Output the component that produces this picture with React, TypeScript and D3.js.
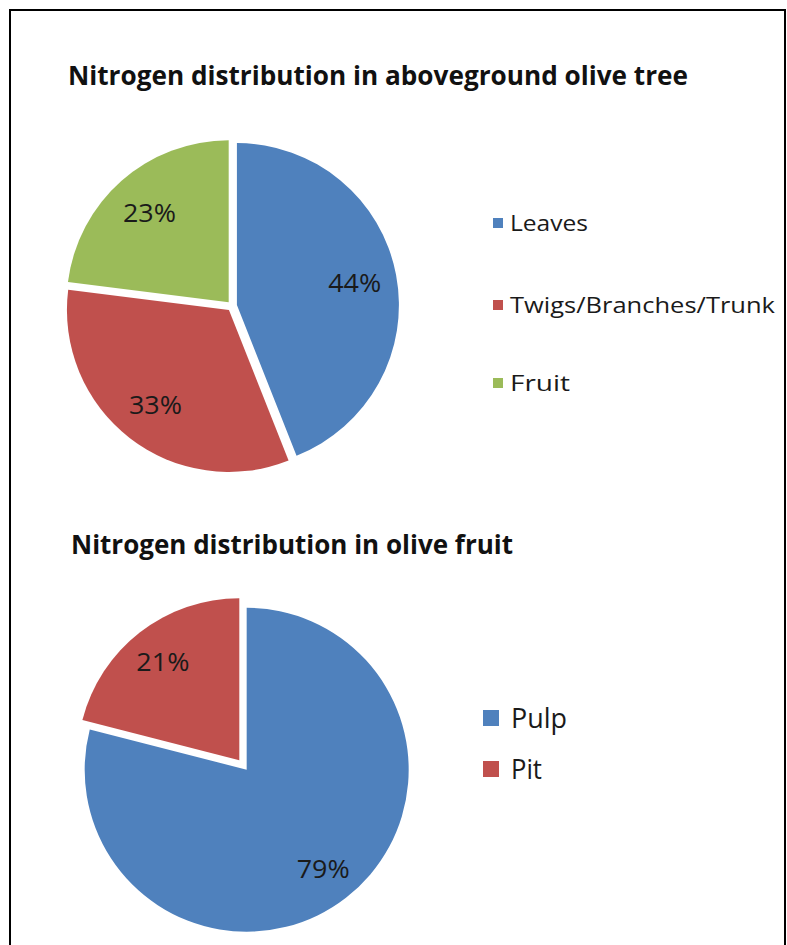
import React from "react";
import * as d3 from "d3";

const treeCategories = ["Leaves", "Twigs/Branches/Trunk", "Fruit"];
const treeValues = [44, 33, 23];
const fruitCategories = ["Pulp", "Pit"];
const fruitValues = [79, 21];
const titles = [
  "Nitrogen distribution  in aboveground  olive tree",
  "Nitrogen distribution  in olive fruit",
];
const palette = ["#4F81BD", "#C0504D", "#9BBB59"];

const W = 787;
const H = 945;
const FONT = "'Open Sans', 'Noto Sans', sans-serif";

type PieSpec = {
  cats: string[];
  vals: number[];
  cx: number;
  cy: number;
  r: number;
  explode: number;
  labelSize: number;
  labelLen: number;
  labelRatio: number;
};

function Pie({ cats, vals, cx, cy, r, explode, labelSize, labelLen, labelRatio }: PieSpec) {
  const pie = d3
    .pie<number>()
    .sort(null)
    .value((d) => d)
    .startAngle(0)
    .endAngle(2 * Math.PI);
  const arcs = pie(vals);
  const arc = d3.arc<d3.PieArcDatum<number>>().innerRadius(0).outerRadius(r);
  const labelArc = d3
    .arc<d3.PieArcDatum<number>>()
    .innerRadius(r * labelRatio)
    .outerRadius(r * labelRatio);
  return (
    <g transform={`translate(${cx},${cy})`}>
      {arcs.map((a, i) => {
        const mid = (a.startAngle + a.endAngle) / 2;
        const dx = explode * Math.sin(mid);
        const dy = -explode * Math.cos(mid);
        const [lx, ly] = labelArc.centroid(a);
        return (
          <g key={cats[i]} transform={`translate(${dx},${dy})`}>
            <path d={arc(a) || ""} fill={palette[i]} />
            <text
              x={lx}
              y={ly}
              dy="0.36em"
              textAnchor="middle"
              fontFamily={FONT}
              fontSize={labelSize}
              fill="#1a1a1a"
              textLength={labelLen}
              lengthAdjust="spacingAndGlyphs"
            >
              {`${vals[i]}%`}
            </text>
          </g>
        );
      })}
    </g>
  );
}

type LegendSpec = {
  cats: string[];
  x: number;
  ys: number[];
  box: number;
  gap: number;
  size: number;
  lens: number[];
};

function Legend({ cats, x, ys, box, gap, size, lens }: LegendSpec) {
  return (
    <g>
      {cats.map((c, i) => (
        <g key={c}>
          <rect x={x} y={ys[i] - box / 2} width={box} height={box} fill={palette[i]} />
          <text
            x={x + box + gap}
            y={ys[i]}
            dy="0.36em"
            fontFamily={FONT}
            fontSize={size}
            fill="#1a1a1a"
            textLength={lens[i]}
            lengthAdjust="spacingAndGlyphs"
          >
            {c}
          </text>
        </g>
      ))}
    </g>
  );
}

export default function App() {
  return (
    <svg
      width={W}
      height={H}
      style={{ position: "absolute", left: 0, top: 0, background: "#fff" }}
    >
      <rect x={0} y={0} width={W} height={H} fill="#fff" />
      <path d={`M10,${H + 2} V10 H785 V${H + 2}`} fill="none" stroke="#000" strokeWidth={2} />

      <text
        x={68}
        y={85}
        fontFamily={FONT}
        fontWeight="bold"
        fontSize={27}
        fill="#111"
        textLength={620}
        lengthAdjust="spacingAndGlyphs"
      >
        {titles[0]}
      </text>
      <Pie
        cats={treeCategories}
        vals={treeValues}
        cx={232}
        cy={306}
        r={162}
        explode={5}
        labelSize={26}
        labelLen={53}
        labelRatio={0.74}
      />
      <Legend
        cats={treeCategories}
        x={493}
        ys={[223, 305, 383]}
        box={10}
        gap={7}
        size={22}
        lens={[78, 265, 60]}
      />

      <text
        x={71}
        y={554}
        fontFamily={FONT}
        fontWeight="bold"
        fontSize={27}
        fill="#111"
        textLength={442}
        lengthAdjust="spacingAndGlyphs"
      >
        {titles[1]}
      </text>
      <Pie
        cats={fruitCategories}
        vals={fruitValues}
        cx={243}
        cy={765}
        r={162}
        explode={6}
        labelSize={26}
        labelLen={53}
        labelRatio={0.77}
      />
      <Legend
        cats={fruitCategories}
        x={483}
        ys={[718, 769]}
        box={16}
        gap={12}
        size={27}
        lens={[56, 31]}
      />
    </svg>
  );
}
